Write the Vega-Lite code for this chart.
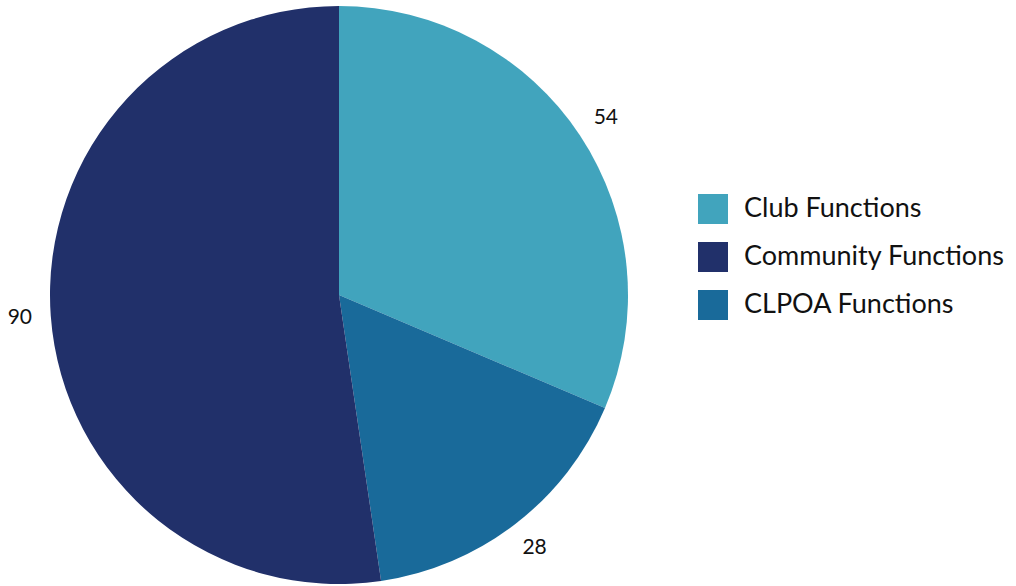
{
  "$schema": "https://vega.github.io/schema/vega-lite/v6.json",
  "autosize": {"type": "none"},
  "width": 580,
  "height": 580,
  "padding": {"left": 49, "top": 5, "right": 387, "bottom": 1},
  "background": "white",
  "config": {"view": {"stroke": null}, "font": "Lato"},
  "data": {
    "values": [
      {"category": "Club Functions", "value": 54, "idx": 1},
      {"category": "CLPOA Functions", "value": 28, "idx": 2},
      {"category": "Community Functions", "value": 90, "idx": 3}
    ]
  },
  "encoding": {
    "theta": {"field": "value", "type": "quantitative", "stack": true},
    "order": {"field": "idx", "type": "quantitative"},
    "color": {
      "field": "category",
      "type": "nominal",
      "scale": {
        "domain": ["Club Functions", "Community Functions", "CLPOA Functions"],
        "range": ["#41A4BD", "#21306A", "#196A9A"]
      },
      "legend": {
        "title": null,
        "orient": "none",
        "legendX": 649,
        "legendY": 189,
        "symbolType": "square",
        "symbolSize": 900,
        "symbolStrokeWidth": 0,
        "labelFontSize": 27,
        "labelColor": "#111111",
        "labelOffset": 16,
        "rowPadding": 18,
        "labelLimit": 400
      }
    }
  },
  "layer": [
    {"mark": {"type": "arc", "outerRadius": 289}},
    {
      "mark": {"type": "text", "radius": 320, "fontSize": 21, "color": "#111111"},
      "encoding": {"text": {"field": "value", "type": "quantitative"}, "color": {"value": "#111111"}}
    }
  ]
}
